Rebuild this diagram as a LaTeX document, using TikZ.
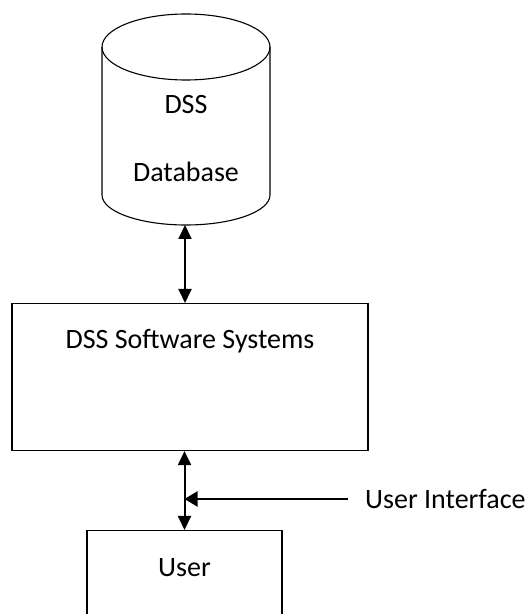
\documentclass[tikz,border=0pt]{standalone}
\usepackage{fontspec}
\setmainfont{Carlito}
\usetikzlibrary{arrows.meta}

\begin{document}
\begin{tikzpicture}[x=1pt, y=1pt,
    txt/.style={font=\fontsize{28}{34}\selectfont},
    box/.style={draw, line width=1.1pt, inner sep=0pt, txt},
    arr/.style={line width=2pt, {Triangle[length=14pt,width=13pt]}-{Triangle[length=14pt,width=13pt]}},
    onearr/.style={line width=2pt, -{Triangle[length=13pt,width=15pt]}}]
    \useasboundingbox (0,0) rectangle (530,614);

    % database
    \draw[line width=1.1pt] (102,567) -- (102,419) arc[start angle=180, end angle=360, x radius=84pt, y radius=30pt] -- (270,567);
    \draw[line width=1.1pt] (186,567) ellipse [x radius=84pt, y radius=33pt];
    \node[txt, align=center] (db) at (186,475) {DSS\\[34pt]Database};
    \coordinate (dbbot) at (185,389);

    \node[box, anchor=north, minimum width=356pt, text height=44.5pt, text depth=102.5pt] (sw) at (190,311) {DSS Software Systems};
    \node[box, anchor=north, minimum width=195pt, text height=46pt, text depth=54pt] (user) at (184.5,84) {User};
    \node[txt, anchor=west, inner sep=9pt] (ui) at (356,115) {User Interface};

    \draw[arr] (dbbot) -- (dbbot |- sw.north);
    \draw[arr] (user.north |- sw.south) -- (user.north);
    \draw[onearr] ([xshift=-8pt]ui.west) -- (ui.west -| user.north);
\end{tikzpicture}
\end{document}
